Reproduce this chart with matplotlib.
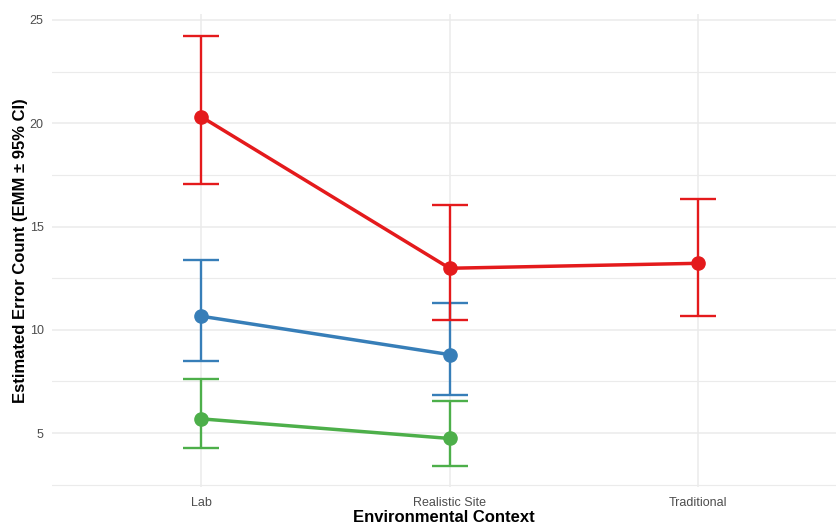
import matplotlib
matplotlib.use("Agg")
import matplotlib.pyplot as plt
from matplotlib.ticker import MultipleLocator

# =========================================================
# DATA
# =========================================================

contexts = ["Lab", "Realistic Site", "Traditional"]

red_ctx = ["Lab", "Realistic Site", "Traditional"]
red_emm = [20.32, 12.98, 13.22]
red_lo = [17.06, 10.48, 10.68]
red_hi = [24.24, 16.04, 16.34]

blue_ctx = ["Lab", "Realistic Site"]
blue_emm = [10.66, 8.80]
blue_lo = [8.49, 6.83]
blue_hi = [13.39, 11.29]

green_ctx = ["Lab", "Realistic Site"]
green_emm = [5.69, 4.74]
green_lo = [4.26, 3.39]
green_hi = [7.63, 6.53]

# =========================================================
# FIGURE
# =========================================================

plt.rcParams["font.family"] = ["Liberation Sans", "DejaVu Sans"]

fig = plt.figure(figsize=(8.36, 5.25), dpi=100)
ax = fig.add_axes([52 / 836, 1 - 487 / 525, 1 - 52 / 836, (487 - 14) / 525])

pos = {c: i + 1 for i, c in enumerate(contexts)}

series = [
    (blue_ctx, blue_emm, blue_lo, blue_hi, "#377EB8"),
    (green_ctx, green_emm, green_lo, green_hi, "#4DAF4A"),
    (red_ctx, red_emm, red_lo, red_hi, "#E41A1C"),
]

for ctx, emm, lo, hi, col in series:
    x = [pos[c] for c in ctx]
    err = [[m - l for m, l in zip(emm, lo)], [h - m for m, h in zip(emm, hi)]]
    ax.errorbar(
        x, emm, yerr=err, fmt="none", ecolor=col,
        elinewidth=1.7, capsize=13, capthick=1.7, zorder=3,
    )
    ax.plot(x, emm, color=col, linewidth=2.5, zorder=4)
    ax.plot(x, emm, "o", color=col, markersize=9.5, zorder=5)

# =========================================================
# AXES STYLE (theme_minimal look)
# =========================================================

ax.set_xlim(0.4, 3.555)
ax.set_ylim(2.39, 25.29)
ax.set_xticks([1, 2, 3])
ax.set_xticklabels(contexts)
ax.yaxis.set_major_locator(MultipleLocator(5))
ax.yaxis.set_minor_locator(MultipleLocator(2.5))

ax.grid(True, which="major", color="#EBEBEB", linewidth=1.1)
ax.grid(True, which="minor", axis="y", color="#EBEBEB", linewidth=0.8)
ax.set_axisbelow(True)

for s in ax.spines.values():
    s.set_visible(False)

ax.tick_params(which="both", length=0, labelsize=9, labelcolor="#4D4D4D", pad=6)
ax.tick_params(axis="x", pad=7.5)

ax.set_xlabel("Environmental Context", fontsize=12, fontweight="bold", labelpad=0.5)
ax.set_ylabel("Estimated Error Count (EMM ± 95% CI)", fontsize=12,
              fontweight="bold", labelpad=1)

fig.savefig("out.png", dpi=100)
